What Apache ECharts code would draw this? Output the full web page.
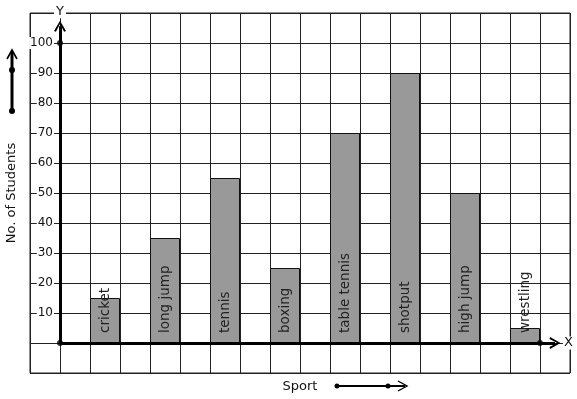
<!DOCTYPE html>
<html>
<head>
<meta charset="utf-8">
<script src="https://cdn.jsdelivr.net/npm/echarts@6/dist/echarts.min.js"></script>
<style>
html,body{margin:0;padding:0;background:#fff;}
#chart{width:577px;height:399px;}
</style>
</head>
<body>
<div id="chart"></div>
<script>
// ---- data ----
var sports = ['cricket', 'long jump', 'tennis', 'boxing', 'table tennis', 'shotput', 'high jump', 'wrestling'];
var students = [15, 35, 55, 25, 70, 90, 50, 5];
var yTickLabels = [10, 20, 30, 40, 50, 60, 70, 80, 90, 100];
var xAxisTitle = 'Sport';
var yAxisTitle = 'No. of Students';

// ---- build slot categories (bars in every other grid column) ----
var slotCount = 18;
var slots = [];
var slotValues = [];
for (var i = 0; i < slotCount; i++) { slots.push('s' + i); slotValues.push('-'); }
var slotNames = {};
sports.forEach(function (s, k) {
  var idx = 2 + 2 * k;
  slotNames[slots[idx]] = s;
  slotValues[idx] = students[k];
});

var chevron = 'path://M0,10 L5,0 L10,10 L8.4,10.6 L5,3.2 L1.6,10.6 Z';
var FONT = 'DejaVu Sans';

var chart = echarts.init(document.getElementById('chart'), null, {renderer: 'canvas'});
chart.setOption({
  animation: false,
  backgroundColor: '#fff',
  textStyle: {fontFamily: FONT},
  grid: {left: 30, right: 7, top: 13, bottom: 26, containLabel: false, outerBoundsMode: 'none',
         show: true, borderColor: '#222', borderWidth: 1, backgroundColor: 'transparent'},
  xAxis: [{
    type: 'value', min: -1, max: 17, interval: 1,
    axisLine: {show: false, onZero: false},
    axisTick: {show: false},
    axisLabel: {show: false},
    splitLine: {show: true, lineStyle: {color: '#222', width: 1}},
    name: xAxisTitle, nameLocation: 'middle', nameGap: 7,
    nameTextStyle: {fontFamily: FONT, fontSize: 13, color: '#111', verticalAlign: 'top'}
  }, {
    type: 'category', data: slots, boundaryGap: true, show: false,
    axisLabel: {show: false}, splitLine: {show: false}
  }],
  yAxis: [{
    type: 'value', min: -10, max: 110, interval: 10,
    axisLine: {show: false, onZero: false},
    axisTick: {show: false},
    axisLabel: {
      show: true, margin: -24, fontFamily: FONT, fontSize: 12, color: '#111',
      backgroundColor: '#fff', padding: [0, 1, 0, 1],
      formatter: function (v) { return yTickLabels.indexOf(v) >= 0 ? String(v) : ''; }
    },
    splitLine: {show: true, lineStyle: {color: '#222', width: 1}},
    name: yAxisTitle, nameLocation: 'middle', nameGap: 11,
    nameTextStyle: {fontFamily: FONT, fontSize: 13, color: '#111'}
  }],
  series: [{
    type: 'bar',
    xAxisIndex: 1, yAxisIndex: 0,
    data: slotValues,
    barWidth: '100%',
    itemStyle: {color: '#999999', borderColor: '#111', borderWidth: 1},
    label: {
      show: true, position: 'insideBottom', rotate: 90, align: 'left', verticalAlign: 'middle',
      distance: 10, fontFamily: FONT, fontSize: 13.5, color: '#222',
      formatter: function (p) { return slotNames[p.name] || ''; }
    },
    z: 3
  }, {
    type: 'scatter',
    xAxisIndex: 0, yAxisIndex: 0,
    data: [[0, 0], [0, 100], [16, 0]],
    symbol: 'circle', symbolSize: 6,
    itemStyle: {color: '#000'},
    z: 6,
    markLine: {
      silent: true, animation: false,
      symbol: ['none', chevron], symbolSize: [12, 11],
      lineStyle: {color: '#000', width: 3, type: 'solid'},
      label: {show: false},
      data: [
        [{coord: [0, 0]}, {coord: [0, 105.6], label: {show: true, position: 'end', formatter: 'Y', distance: 8, fontFamily: FONT, fontSize: 13, color: '#111', backgroundColor: '#fff', padding: [0, 2]}}],
        [{coord: [0, 0]}, {coord: [16.5, 0], label: {show: true, position: 'end', formatter: 'X', distance: 8, fontFamily: FONT, fontSize: 13, color: '#111', backgroundColor: '#fff', padding: [0, 1]}}]
      ]
    }
  }],
  graphic: [
    // left decorative arrow
    {type: 'line', shape: {x1: 12, y1: 111, x2: 12, y2: 52}, style: {stroke: '#000', lineWidth: 3}},
    {type: 'polyline', shape: {points: [[7, 59], [12, 50], [17, 59]]}, style: {stroke: '#000', lineWidth: 1.6, fill: null}},
    {type: 'circle', shape: {cx: 12, cy: 111, r: 3}, style: {fill: '#000'}},
    {type: 'circle', shape: {cx: 12, cy: 70, r: 3}, style: {fill: '#000'}},
    // bottom decorative arrow
    {type: 'line', shape: {x1: 337, y1: 386, x2: 405, y2: 386}, style: {stroke: '#000', lineWidth: 2}},
    {type: 'polyline', shape: {points: [[398, 381], [407, 386], [398, 391]]}, style: {stroke: '#000', lineWidth: 1.4, fill: null}},
    {type: 'circle', shape: {cx: 337, cy: 386, r: 2.5}, style: {fill: '#000'}},
    {type: 'circle', shape: {cx: 388, cy: 386, r: 2.5}, style: {fill: '#000'}}
  ]
});
</script>
</body>
</html>
